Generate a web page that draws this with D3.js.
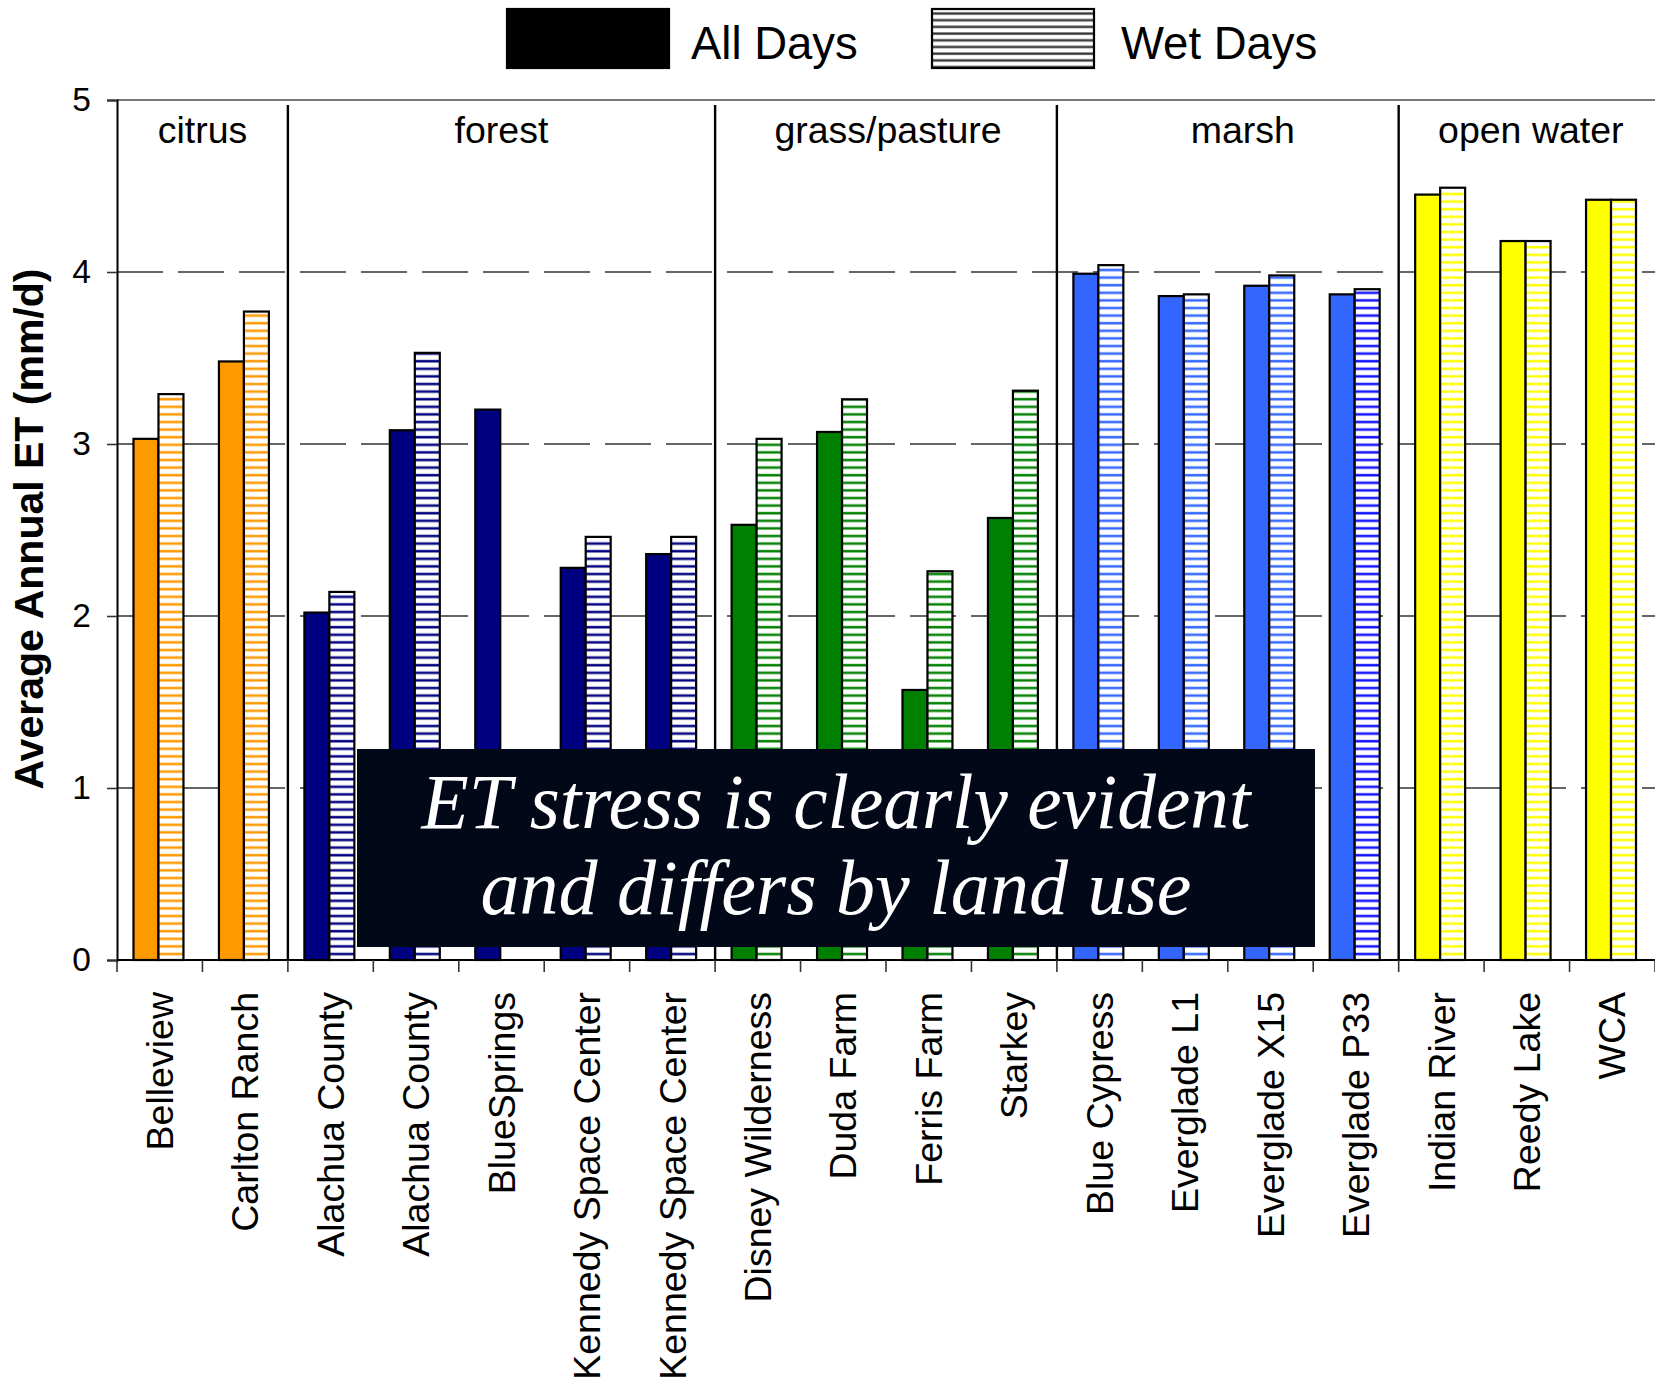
<!DOCTYPE html>
<html><head><meta charset="utf-8">
<script src="https://cdn.jsdelivr.net/npm/d3@7"></script>
<style>body{margin:0;background:#fff} svg{display:block}</style>
</head><body>
<svg id="chart" width="1655" height="1385"></svg>
<script>
// ---------- data ----------
const sites = ["Belleview","Carlton Ranch","Alachua County","Alachua County","BlueSprings",
  "Kennedy Space Center","Kennedy Space Center","Disney Wilderness","Duda Farm","Ferris Farm","Starkey",
  "Blue Cypress","Everglade L1","Everglade X15","Everglade P33","Indian River","Reedy Lake","WCA"];
const landUse = ["citrus","citrus","forest","forest","forest","forest","forest",
  "grass/pasture","grass/pasture","grass/pasture","grass/pasture",
  "marsh","marsh","marsh","marsh","open water","open water","open water"];
const groups = ["citrus","forest","grass/pasture","marsh","open water"];
const allDays = [3.03,3.48,2.02,3.08,3.20,2.28,2.36,2.53,3.07,1.57,2.57,3.99,3.86,3.92,3.87,4.45,4.18,4.42];
const wetDays = [3.29,3.77,2.14,3.53,null,2.46,2.46,3.03,3.26,2.26,3.31,4.04,3.87,3.98,3.90,4.49,4.18,4.42];
const yTicks = [0,1,2,3,4,5];
const seriesNames = ["All Days","Wet Days"];
const annotation = ["ET stress is clearly evident","and differs by land use"];

// ---------- styles ----------
const groupColor = {"citrus":"#FF9900","forest":"#000080","grass/pasture":"#008000","marsh":"#3366FF","open water":"#FFFF00"};
const hatchOverride = {14: "#1010FF"};
const groupLabelShift = {"marsh": 15, "open water": 4, "grass/pasture": 2};
const FONT = "'Liberation Sans', Arial, Helvetica, sans-serif";

const svg = d3.select("#chart");
const L = 117, R = 1655, T = 100, B = 960;

const x = d3.scaleBand().domain(d3.range(sites.length)).range([L, R]).paddingInner(0).paddingOuter(0);
const x1 = d3.scaleBand().domain([0,1]).range([0, x.bandwidth()]).paddingInner(0).paddingOuter(0.71).align(0.465);
const y = d3.scaleLinear().domain([0,5]).range([B, T]);

// patterns
const defs = svg.append("defs");
function makeHatch(id, color) {
  const p = defs.append("pattern").attr("id",id).attr("patternUnits","userSpaceOnUse")
    .attr("width",10).attr("height",7.6);
  p.append("rect").attr("width",10).attr("height",7.6).attr("fill","#fff");
  p.append("rect").attr("y",2.5).attr("width",10).attr("height",3).attr("fill",color).attr("opacity",0.45);
  p.append("rect").attr("y",3).attr("width",10).attr("height",2).attr("fill",color);
}
groups.forEach((g,i) => makeHatch("hatch"+i, groupColor[g]));
Object.keys(hatchOverride).forEach(k => makeHatch("hatchO"+k, hatchOverride[k]));
const lp = defs.append("pattern").attr("id","hatchLegend").attr("patternUnits","userSpaceOnUse")
  .attr("width",10).attr("height",6.7).attr("y",10);
lp.append("rect").attr("width",10).attr("height",6.7).attr("fill","#fff");
lp.append("rect").attr("y",2).attr("width",10).attr("height",3).attr("fill","#bbb");
lp.append("rect").attr("y",2.5).attr("width",10).attr("height",2).attr("fill","#333");

// gridlines
svg.append("g").selectAll("line").data(yTicks.filter(t => t>0 && t<5)).join("line")
  .attr("x1",L).attr("x2",R).attr("y1",d=>y(d)).attr("y2",d=>y(d))
  .attr("stroke","#333").attr("stroke-width",1.6).attr("stroke-dasharray","46,15");
// top border
svg.append("line").attr("x1",L).attr("x2",R).attr("y1",y(5)).attr("y2",y(5))
  .attr("stroke","#777").attr("stroke-width",2);

// bars
const bars = svg.append("g");
sites.forEach((s,i) => {
  const gi = groups.indexOf(landUse[i]);
  const vals = [allDays[i], wetDays[i]];
  vals.forEach((v,k) => {
    if (v == null) return;
    const hatchId = hatchOverride[i] ? "hatchO"+i : "hatch"+gi;
    bars.append("rect")
      .attr("x", x(i) + x1(k)).attr("width", x1.bandwidth())
      .attr("y", y(v)).attr("height", y(0) - y(v))
      .attr("fill", k===0 ? groupColor[landUse[i]] : `url(#${hatchId})`)
      .attr("stroke","#000").attr("stroke-width",2.2);
  });
});

// group separators + labels
const groupStarts = groups.map(g => landUse.indexOf(g));
const groupEnds = groups.map(g => landUse.lastIndexOf(g) + 1);
const edge = i => i >= sites.length ? R : x(i);
svg.append("g").selectAll("line").data(groupStarts.slice(1)).join("line")
  .attr("x1",d=>edge(d)).attr("x2",d=>edge(d)).attr("y1",105).attr("y2",B)
  .attr("stroke","#000").attr("stroke-width",2.4);
svg.append("g").selectAll("text").data(groups).join("text")
  .attr("x",(g,i)=> (edge(groupStarts[i]) + edge(groupEnds[i])) / 2 + (groupLabelShift[g] || 0))
  .attr("y",143).attr("text-anchor","middle")
  .attr("font-family",FONT).attr("font-size",37.5).attr("fill","#000").text(d=>d);

// x axis
const xAxis = d3.axisBottom(x).tickSize(0).tickPadding(0).tickFormat(i => sites[i]);
const gx = svg.append("g").attr("transform",`translate(0,${B})`).call(xAxis);
gx.select(".domain").remove();
gx.selectAll(".tick text")
  .attr("font-family",FONT).attr("font-size",37.5).attr("fill","#000")
  .attr("transform","translate(0,32) rotate(-90)")
  .attr("text-anchor","end").attr("x",0).attr("y",0).attr("dy","0.35em");
svg.append("line").attr("x1",L).attr("x2",R).attr("y1",B).attr("y2",B).attr("stroke","#000").attr("stroke-width",2);
svg.append("g").selectAll("line").data(d3.range(sites.length+1)).join("line")
  .attr("x1",d=>edge(d)).attr("x2",d=>edge(d)).attr("y1",B).attr("y2",B+12)
  .attr("stroke","#333").attr("stroke-width",1.6);

// y axis
const yAxis = d3.axisLeft(y).tickValues(yTicks).tickSize(10).tickPadding(16).tickFormat(d3.format("d"));
const gy = svg.append("g").attr("transform",`translate(${L},0)`).call(yAxis);
gy.select(".domain").attr("stroke","#000").attr("stroke-width",2);
gy.selectAll(".tick line").attr("stroke","#333").attr("stroke-width",1.6);
gy.selectAll(".tick text").attr("font-family",FONT).attr("font-size",33.5).attr("fill","#000");

svg.append("text").attr("transform","translate(43,529) rotate(-90)")
  .attr("text-anchor","middle").attr("font-family",FONT).attr("font-weight","bold")
  .attr("font-size",41).attr("fill","#000").text("Average Annual ET (mm/d)");

// legend
const leg = svg.append("g");
const legItems = [{x:507, tx:691}, {x:932, tx:1121}];
seriesNames.forEach((n,k) => {
  leg.append("rect").attr("x",legItems[k].x).attr("y",9).attr("width",162).attr("height",59)
    .attr("fill", k===0 ? "#000" : "url(#hatchLegend)").attr("stroke","#000").attr("stroke-width",2.2);
  leg.append("text").attr("x",legItems[k].tx).attr("y",59).attr("font-family",FONT)
    .attr("font-size",45.5).attr("fill","#000").text(n);
});

// annotation
svg.append("rect").attr("x",357).attr("y",749).attr("width",958).attr("height",198).attr("fill","#020817");
const targetW = [829, 711];
const baselines = [828, 914];
annotation.forEach((t,k) => {
  const tx = svg.append("text").attr("x",836).attr("y",baselines[k]).attr("text-anchor","middle")
    .attr("font-family","'Liberation Serif','Times New Roman',serif").attr("font-style","italic")
    .attr("font-size",72).attr("fill","#fff").text(t);
  const w = tx.node().getComputedTextLength();
  tx.attr("font-size", 72 * targetW[k] / w);
});
</script>
</body></html>
